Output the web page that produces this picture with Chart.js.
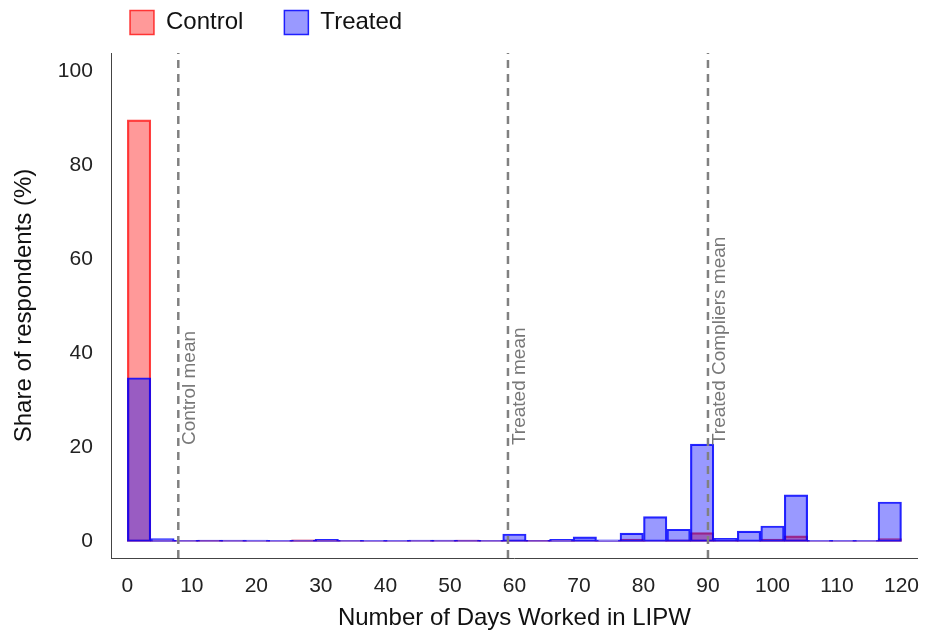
<!DOCTYPE html>
<html>
<head>
<meta charset="utf-8">
<script src="https://cdn.jsdelivr.net/npm/chart.js@4.4.1/dist/chart.umd.min.js"></script>
<style>
  body { margin: 0; background: #fff; }
  #wrap { width: 928px; height: 641px; }
</style>
</head>
<body>
<div id="wrap"><canvas id="hist"></canvas></div>
<script>
// bin centres (33 bins of 120/33 days)
const binCenters = [1.82, 5.45, 9.09, 12.73, 16.36, 20.00, 23.64, 27.27, 30.91, 34.55, 38.18,
    41.82, 45.45, 49.09, 52.73, 56.36, 60.00, 63.64, 67.27, 70.91, 74.55, 78.18,
    81.82, 85.45, 89.09, 92.73, 96.36, 100.00, 103.64, 107.27, 110.91, 114.55, 118.18];

const controlShare = [89.6, 0.2, 0.2, 0.25, 0.2, 0.15, 0.15, 0.35, 0.3, 0.2, 0.15,
    0.15, 0.2, 0.2, 0.3, 0.2, 0.3, 0.25, 0.2, 0.2, 0.15, 0.5,
    0.2, 0.35, 1.9, 0.25, 0.2, 0.5, 1.2, 0.15, 0.15, 0.15, 0.6];

const treatedShare = [34.8, 0.6, 0.25, 0.3, 0.3, 0.3, 0.25, 0.3, 0.45, 0.25, 0.25,
    0.25, 0.3, 0.3, 0.3, 0.25, 1.6, 0.25, 0.45, 1.0, 0.35, 1.8,
    5.3, 2.6, 20.7, 0.7, 2.2, 3.3, 9.9, 0.25, 0.25, 0.25, 8.4];

const meanLabels = ['Control mean', 'Treated mean', 'Treated Compliers mean'];
const meanValues = [7.9, 59.0, 90.0];
const meanLabelY = 20.5;

const yMin = -3.5, yMax = 103.8;
const xMin = -2.4, xMax = 122.4;

const font = 'Liberation Sans, Arial, sans-serif';

const toPoints = arr => arr.map((v, i) => ({x: binCenters[i], y: v}));

const meanLines = meanValues.map(v => ({
    type: 'line',
    label: 'mean',
    data: [{x: v, y: yMin}, {x: v, y: yMax}],
    borderColor: '#808080',
    borderWidth: 2.5,
    borderDash: [8, 6],
    pointRadius: 0,
    order: 0
}));

// rotated text next to each dashed line
const meanText = {
    id: 'meanText',
    afterDatasetsDraw(chart) {
        const {ctx, scales} = chart;
        ctx.save();
        ctx.fillStyle = '#777';
        ctx.font = '19px ' + font;
        ctx.textAlign = 'left';
        ctx.textBaseline = 'alphabetic';
        meanValues.forEach((v, i) => {
            ctx.save();
            ctx.translate(scales.x.getPixelForValue(v) + 17, scales.y.getPixelForValue(meanLabelY));
            ctx.rotate(-Math.PI / 2);
            ctx.fillText(meanLabels[i], 0, 0);
            ctx.restore();
        });
        ctx.restore();
    }
};

// move the legend to the left like the original
const legendPlace = {
    id: 'legendPlace',
    afterLayout(chart) {
        chart.legend.left = 89;
        chart.legend.top = -30.5;
    }
};

new Chart(document.getElementById('hist'), {
    type: 'bar',
    data: {
        datasets: [{
            label: 'Control',
            data: toPoints(controlShare),
            backgroundColor: 'rgba(255, 0, 0, 0.4)',
            borderColor: 'rgba(255, 0, 0, 0.75)',
            borderWidth: 1.5,
            borderSkipped: false,
            order: 2
        }, {
            label: 'Treated',
            data: toPoints(treatedShare),
            backgroundColor: 'rgba(0, 0, 255, 0.4)',
            borderColor: 'rgba(0, 0, 255, 0.85)',
            borderWidth: 1.5,
            borderSkipped: false,
            order: 1
        }, ...meanLines]
    },
    options: {
        responsive: true,
        maintainAspectRatio: false,
        animation: false,
        grouped: false,
        barPercentage: 1,
        categoryPercentage: 1,
        layout: { padding: { top: 7, right: 11, left: 6, bottom: 4 } },
        plugins: {
            tooltip: { enabled: false },
            legend: {
                position: 'top',
                align: 'start',
                maxHeight: 46,
                labels: {
                    boxWidth: 24,
                    boxHeight: 24,
                    padding: 41,
                    color: '#111',
                    font: { family: font, size: 24 },
                    filter: item => item.datasetIndex < 2,
                    sort: (a, b) => a.datasetIndex - b.datasetIndex
                }
            }
        },
        scales: {
            x: {
                type: 'linear',
                offset: false,
                min: xMin,
                max: xMax,
                grid: { display: true, drawOnChartArea: false, drawTicks: true, tickLength: 16, color: 'transparent' },
                border: { display: true, color: '#444', width: 1 },
                ticks: {
                    stepSize: 10,
                    includeBounds: false,
                    maxRotation: 0,
                    autoSkip: false,
                    padding: 0,
                    color: '#222',
                    font: { family: font, size: 21 }
                },
                title: {
                    display: true,
                    text: 'Number of Days Worked in LIPW',
                    color: '#111',
                    font: { family: font, size: 24 },
                    padding: { top: 5, bottom: 4 }
                }
            },
            y: {
                min: yMin,
                max: yMax,
                grid: { display: false, drawTicks: false },
                border: { display: true, color: '#444', width: 1 },
                ticks: {
                    stepSize: 20,
                    includeBounds: false,
                    padding: 19,
                    color: '#222',
                    font: { family: font, size: 21 }
                },
                title: {
                    display: true,
                    text: 'Share of respondents (%)',
                    color: '#111',
                    font: { family: font, size: 24 },
                    padding: { top: 4, bottom: 0 }
                }
            }
        }
    },
    plugins: [meanText, legendPlace]
});
</script>
</body>
</html>
